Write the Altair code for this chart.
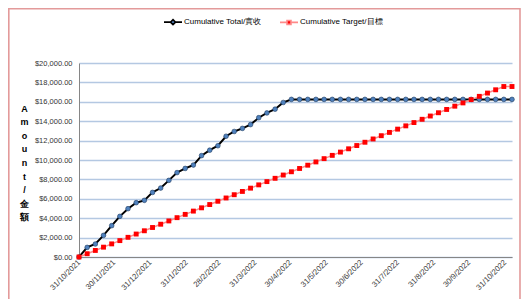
import altair as alt
import pandas as pd

dates = [
    "2021-10-31", "2021-11-07", "2021-11-14", "2021-11-21", "2021-11-28",
    "2021-12-05", "2021-12-12", "2021-12-19", "2021-12-26", "2022-01-02",
    "2022-01-09", "2022-01-16", "2022-01-23", "2022-01-30", "2022-02-06",
    "2022-02-13", "2022-02-20", "2022-02-27", "2022-03-06", "2022-03-13",
    "2022-03-20", "2022-03-27", "2022-04-03", "2022-04-10", "2022-04-17",
    "2022-04-24", "2022-05-01", "2022-05-08", "2022-05-15", "2022-05-22",
    "2022-05-29", "2022-06-05", "2022-06-12", "2022-06-19", "2022-06-26",
    "2022-07-03", "2022-07-10", "2022-07-17", "2022-07-24", "2022-07-31",
    "2022-08-07", "2022-08-14", "2022-08-21", "2022-08-28", "2022-09-04",
    "2022-09-11", "2022-09-18", "2022-09-25", "2022-10-02", "2022-10-09",
    "2022-10-16", "2022-10-23", "2022-10-30", "2022-11-06",
]

total = [
    0, 990, 1340, 2230, 3230, 4190, 4980, 5600, 5840, 6660,
    7110, 7900, 8700, 9130, 9480, 10450, 11010, 11470, 12450, 12940,
    13260, 13650, 14360, 14850, 15240, 15930, 16250, 16250, 16250, 16250,
    16250, 16250, 16250, 16250, 16250, 16250, 16250, 16250, 16250, 16250,
    16250, 16250, 16250, 16250, 16250, 16250, 16250, 16250, 16250, 16250,
    16250, 16250, 16250, 16250,
]

target = [
    0, 338, 676, 1014, 1352, 1690, 2028, 2366, 2704, 3042,
    3380, 3718, 4056, 4394, 4732, 5070, 5408, 5746, 6084, 6422,
    6760, 7098, 7436, 7774, 8112, 8450, 8788, 9126, 9464, 9802,
    10140, 10478, 10816, 11154, 11492, 11830, 12168, 12506, 12844, 13182,
    13520, 13858, 14196, 14534, 14872, 15210, 15548, 15886, 16224, 16562,
    16900, 17238, 17576, 17576,
]

series_names = ["Cumulative Total/實收", "Cumulative Target/目標"]

tick_dates = [
    (2021, 10, 31), (2021, 11, 30), (2021, 12, 31), (2022, 1, 31),
    (2022, 2, 28), (2022, 3, 31), (2022, 4, 30), (2022, 5, 31),
    (2022, 6, 30), (2022, 7, 31), (2022, 8, 31), (2022, 9, 30),
    (2022, 10, 31),
]

y_ticks = [0, 2000, 4000, 6000, 8000, 10000, 12000, 14000, 16000, 18000, 20000]

rows = []
for d, v in zip(dates, total):
    rows.append({"date": d, "series": series_names[0], "value": v})
for d, v in zip(dates, target):
    rows.append({"date": d, "series": series_names[1], "value": v})
df = pd.DataFrame(rows)

FONT = "Liberation Sans"

def dt(t):
    return alt.DateTime(year=t[0], month=t[1], date=t[2], utc=True)

x_enc = alt.X(
    "date:T",
    scale=alt.Scale(type="utc", domain=[dt((2021, 10, 31)), dt((2022, 11, 6))]),
    axis=alt.Axis(
        values=[dt(t) for t in tick_dates],
        tickCount=len(tick_dates),
        format="%-d/%-m/%Y",
        labelAngle=315,
        labelAlign="right",
        labelBaseline="middle",
        labelPadding=4,
        labelFontSize=7.8,
        labelFont=FONT,
        labelColor="#404040",
        ticks=False,
        grid=False,
        domainColor="#868686",
        domainWidth=1,
        title=None,
        labelOverlap=False,
    ),
)

y_enc = alt.Y(
    "value:Q",
    scale=alt.Scale(domain=[0, 20000], nice=False),
    axis=alt.Axis(
        values=y_ticks,
        tickCount=len(y_ticks),
        format="$,.2f",
        labelFontSize=7.5,
        labelFont=FONT,
        labelColor="#333333",
        labelPadding=7,
        labelOverlap=False,
        ticks=False,
        grid=True,
        gridColor="#b4c8e2",
        gridWidth=1.3,
        domainColor="#868686",
        domainWidth=1,
        title=["A", "m", "o", "u", "n", "t", "/", "金", "額"],
        titleAngle=0,
        titleAlign="center",
        titleBaseline="top",
        titleX=-55,
        titleY=41,
        titleFontSize=9,
        titleFontWeight="bold",
        titleFont=FONT,
        titleColor="#000000",
        titleLineHeight=13.6,
    ),
)

base = alt.Chart(df)

line_total = base.transform_filter(
    alt.datum.series == series_names[0]
).mark_line(color="#000000", strokeWidth=2).encode(x=x_enc, y=y_enc)

pts_total = base.transform_filter(
    alt.datum.series == series_names[0]
).mark_point(
    filled=True, shape="circle", size=22, fill="#4f81bd",
    stroke="#1f3a5f", strokeWidth=0.6, opacity=1,
).encode(x="date:T", y="value:Q")

line_target = base.transform_filter(
    alt.datum.series == series_names[1]
).mark_line(color="#ff8a8a", strokeWidth=1.5).encode(x="date:T", y="value:Q")

pts_target = base.transform_filter(
    alt.datum.series == series_names[1]
).mark_square(color="#ff0000", size=24, opacity=1).encode(x="date:T", y="value:Q")

legend_cfg = alt.Legend(
    orient="none",
    legendX=84,
    legendY=-51,
    direction="horizontal",
    title=None,
    labelFont=FONT,
    labelFontSize=8,
    labelColor="#000000",
    labelOffset=1,
    columnPadding=14,
    symbolSize=324,
    symbolStrokeWidth=1.6,
    symbolOpacity=1,
    padding=0,
)

path_total = "M-1,0L-0.3,0M0,-0.28L0.28,0L0,0.28L-0.28,0ZM0.3,0L1,0"
path_target = "M-1,0L-0.25,0M-0.22,-0.22L0.22,-0.22L0.22,0.22L-0.22,0.22ZM0.25,0L1,0"

legend_layer = base.transform_filter("false").mark_point(
    filled=True, opacity=1
).encode(
    shape=alt.Shape("series:N", scale=alt.Scale(domain=series_names, range=[path_total, path_target]), legend=legend_cfg),
    fill=alt.Fill("series:N", scale=alt.Scale(domain=series_names, range=["#4f81bd", "#ff0000"]), legend=legend_cfg),
    stroke=alt.Stroke("series:N", scale=alt.Scale(domain=series_names, range=["#000000", "#ff8a8a"]), legend=legend_cfg),
)

border = alt.Chart(alt.Data(values=[{"a": 1}])).mark_rect(
    fillOpacity=0, stroke="#e39a9a", strokeWidth=1.6
).encode(
    x=alt.value(-70.2), x2=alt.value(441), y=alt.value(-54.2), y2=alt.value(260)
)

chart = alt.layer(
    border, line_total, pts_total, line_target, pts_target, legend_layer
).properties(
    width=433,
    height=194,
    padding={"left": 71, "top": 55, "right": 10, "bottom": 44},
    autosize="none",
    background="#ffffff",
).configure_view(strokeWidth=0)

chart.save("out.html", embed_options={"renderer": "svg", "actions": False})
